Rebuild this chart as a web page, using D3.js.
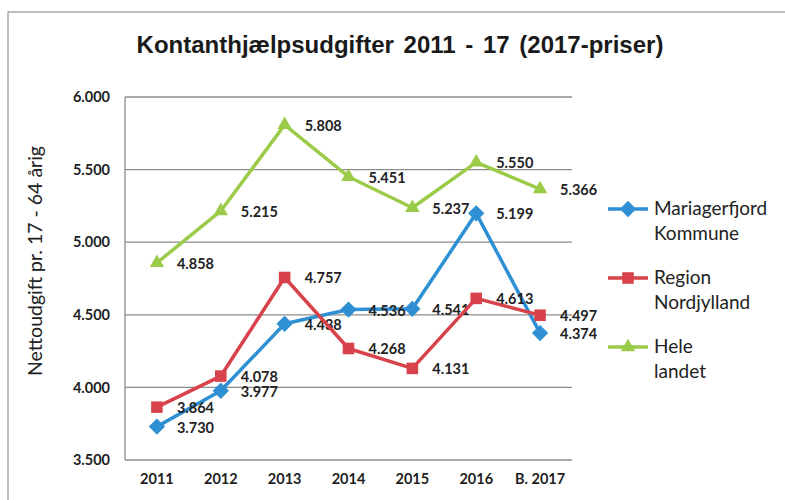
<!DOCTYPE html>
<html>
<head>
<meta charset="utf-8">
<script src="https://cdn.jsdelivr.net/npm/d3@7"></script>
<style>
  body { margin: 0; background: #fff; }
  svg { display: block; }
</style>
</head>
<body>
<div id="chart"></div>
<script>
const years = ['2011', '2012', '2013', '2014', '2015', '2016', 'B. 2017'];
const mariagerfjord = [3730, 3977, 4438, 4536, 4541, 5199, 4374];
const region = [3864, 4078, 4757, 4268, 4131, 4613, 4497];
const heleLandet = [4858, 5215, 5808, 5451, 5237, 5550, 5366];
const yTicks = [3500, 4000, 4500, 5000, 5500, 6000];

const series = [
  { name: ['Mariagerfjord', 'Kommune'], values: mariagerfjord, color: '#2e8fd3', symbol: d3.symbolDiamond2 },
  { name: ['Region', 'Nordjylland'], values: region, color: '#d8434b', symbol: d3.symbolSquare2 },
  { name: ['Hele', 'landet'], values: heleLandet, color: '#9bcb48', symbol: d3.symbolTriangle2 },
];

const width = 785;
const height = 500;
const plot = { left: 125, right: 572, top: 97, bottom: 460 };

const locale = d3.formatLocale({ decimal: ',', thousands: '.', grouping: [3], currency: ['', ' kr'] });
const fmt = locale.format(',d');

const svg = d3.select('#chart')
  .append('svg')
  .attr('width', width)
  .attr('height', height);

// outer frame
svg.append('rect')
  .attr('x', 8)
  .attr('y', 12)
  .attr('width', width)
  .attr('height', height)
  .attr('fill', 'none')
  .attr('stroke', '#9a9a9a')
  .attr('stroke-width', 1.3);

svg.append('text')
  .attr('x', 400)
  .attr('y', 53)
  .attr('text-anchor', 'middle')
  .style('font-family', '"Liberation Sans", Arial, sans-serif')
  .style('font-weight', 'bold')
  .style('font-size', '24px')
  .style('word-spacing', '3px')
  .attr('fill', '#1a1a1a')
  .text('Kontanthjælpsudgifter 2011 - 17 (2017-priser)');

const x = d3.scaleBand().domain(years).range([plot.left, plot.right]);
const y = d3.scaleLinear().domain([3500, 6000]).range([plot.bottom, plot.top]);

// gridlines
svg.append('g')
  .attr('class', 'grid')
  .selectAll('line')
  .data(yTicks)
  .join('line')
  .attr('x1', plot.left)
  .attr('x2', plot.right)
  .attr('y1', d => y(d))
  .attr('y2', d => y(d))
  .attr('stroke', '#8c8c8c')
  .attr('stroke-width', 1.3);

svg.append('line')
  .attr('x1', plot.left)
  .attr('x2', plot.left)
  .attr('y1', plot.top)
  .attr('y2', plot.bottom)
  .attr('stroke', '#8c8c8c')
  .attr('stroke-width', 1.3);

const yAxis = d3.axisLeft(y).tickValues(yTicks).tickFormat(fmt).tickSize(0).tickPadding(15);
const yAxisG = svg.append('g')
  .attr('transform', `translate(${plot.left}, 0)`)
  .call(yAxis);

const xAxis = d3.axisBottom(x).tickSize(0).tickPadding(14);
const xAxisG = svg.append('g')
  .attr('transform', `translate(0, ${plot.bottom})`)
  .call(xAxis);

[yAxisG, xAxisG].forEach(g => {
  g.select('.domain').remove();
  g.selectAll('text')
    .style('font-family', 'Lato, "Open Sans", sans-serif')
    .style('font-weight', 'bold')
    .style('font-size', '14.5px')
    .attr('fill', '#222');
});

svg.append('text')
  .attr('transform', 'translate(42, 261) rotate(-90)')
  .attr('text-anchor', 'middle')
  .style('font-family', 'Lato, "Open Sans", sans-serif')
  .style('font-size', '19.5px')
  .attr('fill', '#222')
  .text('Nettoudgift pr. 17 - 64 årig');

const line = d3.line()
  .x((d, i) => x(years[i]) + x.bandwidth() / 2)
  .y(d => y(d));

const seriesG = svg.append('g')
  .selectAll('g')
  .data(series)
  .join('g');

seriesG.append('path')
  .attr('d', d => line(d.values))
  .attr('fill', 'none')
  .attr('stroke', d => d.color)
  .attr('stroke-width', 3.5)
  .attr('stroke-linejoin', 'round');

const markerSize = s => (s.symbol === d3.symbolTriangle2 ? 150 : 170);

seriesG.each(function (s) {
  d3.select(this)
    .selectAll('path.marker')
    .data(s.values)
    .join('path')
    .attr('class', 'marker')
    .attr('transform', (d, i) => `translate(${x(years[i]) + x.bandwidth() / 2}, ${y(d)})`)
    .attr('d', d3.symbol().type(s.symbol).size(markerSize(s)))
    .attr('fill', s.color);
});

seriesG.each(function (s) {
  d3.select(this)
    .selectAll('text.value')
    .data(s.values)
    .join('text')
    .attr('class', 'value')
    .attr('x', (d, i) => x(years[i]) + x.bandwidth() / 2 + 20)
    .attr('y', d => y(d) + 6)
    .style('font-family', 'Lato, "Open Sans", sans-serif')
    .style('font-weight', 'bold')
    .style('font-size', '14.5px')
    .attr('fill', '#222')
    .text(d => fmt(d));
});

// legend
const legend = svg.append('g')
  .selectAll('g')
  .data(series)
  .join('g')
  .attr('transform', (d, i) => `translate(608, ${209 + i * 69})`);

legend.append('line')
  .attr('x1', 0)
  .attr('x2', 40)
  .attr('stroke', d => d.color)
  .attr('stroke-width', 3.5);

legend.append('path')
  .attr('transform', 'translate(20, 0)')
  .attr('d', d => d3.symbol().type(d.symbol).size(markerSize(d))())
  .attr('fill', d => d.color);

legend.append('text')
  .attr('x', 46)
  .attr('y', 6)
  .style('font-family', 'Lato, "Open Sans", sans-serif')
  .style('font-size', '19px')
  .attr('fill', '#222')
  .selectAll('tspan')
  .data(d => d.name)
  .join('tspan')
  .attr('x', 46)
  .attr('dy', (d, i) => i === 0 ? 0 : 25)
  .text(d => d);
</script>
</body>
</html>
